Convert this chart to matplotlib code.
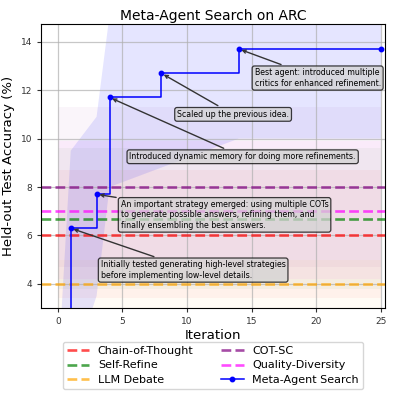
import numpy as np
import matplotlib
matplotlib.use('Agg')
import matplotlib.pyplot as plt

# baselines: name, mean, ci low, ci high, colour
base_names = ['Chain-of-Thought', 'COT-SC', 'Self-Refine', 'LLM Debate', 'Quality-Diversity']
base_acc = [6.0, 8.0, 6.7, 4.0, 7.0]
base_low = [3.4, 4.7, 3.8, 2.0, 4.2]
base_high = [8.7, 11.3, 9.6, 5.0, 9.9]
base_colors = ['red', 'purple', 'green', 'orange', 'magenta']

# meta agent search best-so-far
iters = [0, 1, 3, 4, 8, 14, 25]
acc = [0.0, 6.3, 7.7, 11.7, 12.7, 13.7, 13.7]
acc_low = [0.0, 0.3, 3.5, 8.0, 8.8, 10.0, 10.0]
acc_high = [0.2, 9.5, 10.9, 15.1, 16.0, 17.0, 17.0]

notes = [
    "Initially tested generating high-level strategies\nbefore implementing low-level details.",
    "An important strategy emerged: using multiple COTs\nto generate possible answers, refining them, and\nfinally ensembling the best answers.",
    "Introduced dynamic memory for doing more refinements.",
    "Scaled up the previous idea.",
    "Best agent: introduced multiple\ncritics for enhanced refinement.",
]
note_pts = [(1, 6.3), (3, 7.7), (4, 11.7), (8, 12.7), (14, 13.7)]
note_pos = [(10.47, 4.57), (12.9, 6.85), (14.3, 9.25), (13.56, 11.0), (20.1, 12.5)]

fig = plt.figure(figsize=(3.98, 3.94), dpi=100)
ax = fig.add_axes([0.103, 0.218, 0.864, 0.721])

span = [0, 25]
handles = {}
for name, m, lo, hi, c in zip(base_names, base_acc, base_low, base_high, base_colors):
    h = ax.axhline(m, color=c, linestyle='--', linewidth=1.9, alpha=0.7, label=name)
    ax.fill_between(span, [lo, lo], [hi, hi], color=c, alpha=0.04, linewidth=0)
    handles[name] = h

ax.fill_between(iters, acc_low, acc_high, color='blue', alpha=0.1, linewidth=0)
h, = ax.plot(iters, acc, drawstyle='steps-post', marker='o', markersize=3.2,
             color='blue', linewidth=1.1, label='Meta-Agent Search')
handles['Meta-Agent Search'] = h

for txt, pt, pos in zip(notes, note_pts, note_pos):
    ax.annotate(txt, xy=pt, xytext=pos, fontsize=5.7, ha='center', va='center',
                multialignment='left',
                bbox=dict(boxstyle='round,pad=0.3', fc='lightgrey', ec='black', alpha=0.75, lw=0.9),
                arrowprops=dict(arrowstyle='->', color='#333333', lw=1.0))

ax.set_xlim(-1.3, 25.3)
ax.set_ylim(3.0, 14.73)
ax.set_xticks([0, 5, 10, 15, 20, 25])
ax.set_yticks([4, 6, 8, 10, 12, 14])
ax.tick_params(labelsize=6.5, colors='#333333', length=3)
ax.grid(True, color='#b0b0b0', linewidth=0.9, alpha=0.7)
ax.set_xlabel('Iteration', fontsize=9.5, labelpad=2)
ax.set_ylabel('Held-out Test Accuracy (%)', fontsize=9.5, labelpad=4)
ax.set_title('Meta-Agent Search on ARC', fontsize=10, pad=3)

order = ['Chain-of-Thought', 'Self-Refine', 'LLM Debate', 'COT-SC', 'Quality-Diversity', 'Meta-Agent Search']
ax.legend([handles[k] for k in order], order, ncol=2, loc='upper center',
          bbox_to_anchor=(0.5, -0.1), fontsize=8, columnspacing=2.5,
          handlelength=2, labelspacing=0.4, borderpad=0.35, framealpha=0.8)

fig.savefig('out.png', dpi=100)
